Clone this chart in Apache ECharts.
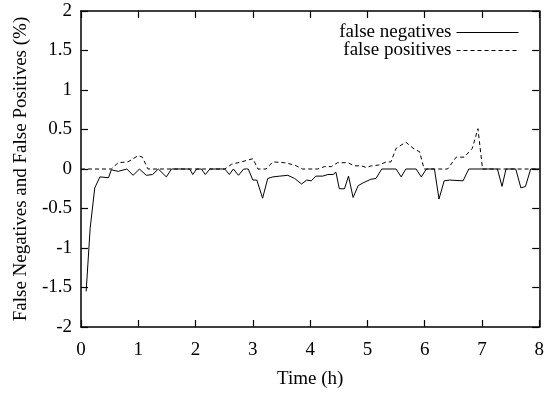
<!DOCTYPE html>
<html>
<head>
<meta charset="utf-8">
<script src="https://cdn.jsdelivr.net/npm/echarts@6/dist/echarts.min.js"></script>
<style>html,body{margin:0;padding:0;background:#fff;}#c{width:547px;height:394px;}</style>
</head>
<body>
<div id="c"></div>
<script>
var seriesNames = ['false negatives', 'false positives'];
var xTicks = [0, 1, 2, 3, 4, 5, 6, 7, 8];
var yTicks = [-2, -1.5, -1, -0.5, 0, 0.5, 1, 1.5, 2];

var fnTime = [0.09,0.16,0.24,0.33,0.48,0.53,0.65,0.80,0.91,1.02,1.14,1.25,1.35,1.49,1.58,1.90,1.95,2.02,2.10,2.17,2.25,2.51,2.59,2.66,2.75,2.84,2.92,3.00,3.07,3.17,3.26,3.35,3.47,3.61,3.73,3.85,3.94,4.02,4.10,4.22,4.31,4.40,4.45,4.51,4.60,4.67,4.75,4.84,4.94,5.06,5.15,5.25,5.50,5.59,5.67,5.85,5.94,6.03,6.17,6.25,6.34,6.43,6.67,6.77,7.27,7.35,7.42,7.59,7.68,7.76,7.85,8.00];
var fnValue = [-1.55,-0.75,-0.24,-0.10,-0.11,-0.01,-0.03,0,-0.08,0,-0.08,-0.07,0,-0.10,0,0,-0.07,0,0,-0.07,0,0,-0.07,0,-0.08,0,0,-0.14,-0.14,-0.37,-0.12,-0.10,-0.09,-0.08,-0.12,-0.19,-0.14,-0.15,-0.09,-0.09,-0.07,-0.07,-0.04,-0.25,-0.25,-0.09,-0.36,-0.21,-0.17,-0.13,-0.12,0,0,-0.10,0,0,-0.10,0,0,-0.38,-0.15,-0.14,-0.15,0,0,-0.22,0,0,-0.24,-0.22,0,0];

var fpTime = [0,0.53,0.65,0.82,1.00,1.07,1.17,2.51,2.63,2.80,3.00,3.09,3.23,3.35,3.55,3.73,3.87,4.13,4.25,4.37,4.48,4.66,4.77,4.89,4.98,5.07,5.20,5.33,5.41,5.50,5.67,5.82,5.91,5.99,6.40,6.55,6.69,6.83,6.93,7.01,8.00];
var fpValue = [0,0,0.08,0.09,0.17,0.15,0,0,0.06,0.09,0.13,0,0,0.09,0.08,0.05,0,0,0.03,0.03,0.08,0.08,0.04,0.04,0.02,0.04,0.05,0.09,0.09,0.26,0.34,0.25,0.22,0,0,0.15,0.15,0.26,0.51,0,0];

function pairs(t, v) { return t.map(function (x, i) { return [x, v[i]]; }); }

var font = 'Liberation Serif, Times New Roman, serif';
var fs = 19;
function axisBase(extra) {
  var a = {
    type: 'value',
    axisLine: { show: true, onZero: false, lineStyle: { color: '#000', width: 1.5 } },
    axisTick: { show: true, inside: true, length: 7, lineStyle: { color: '#000', width: 1.2 } },
    splitLine: { show: false },
    axisLabel: { color: '#000', fontFamily: font, fontSize: fs }
  };
  for (var k in extra) a[k] = extra[k];
  return a;
}
function legendFor(name, top, dashed) {
  return { data: [name], orient: 'vertical', align: 'right', right: 28, top: top,
    itemWidth: 62, itemHeight: 10, itemGap: 0, padding: 0,
    itemStyle: { opacity: 0 },
    lineStyle: { width: 1, color: '#000', type: dashed ? [4, 3] : 'solid' },
    textStyle: { color: '#000', fontFamily: font, fontSize: fs } };
}

var chart = echarts.init(document.getElementById('c'), null, { renderer: 'canvas' });
chart.setOption({
  animation: false,
  backgroundColor: '#fff',
  grid: { left: 81, right: 6, top: 11, bottom: 64, containLabel: false },
  legend: [ legendFor(seriesNames[0], 23, false), legendFor(seriesNames[1], 41, true) ],
  xAxis: [
    axisBase({ position: 'bottom', min: xTicks[0], max: xTicks[xTicks.length - 1], interval: 1,
      name: 'Time (h)', nameLocation: 'middle', nameGap: 43,
      nameTextStyle: { color: '#000', fontFamily: font, fontSize: fs },
      axisLabel: { color: '#000', fontFamily: font, fontSize: fs, margin: 14 } }),
    axisBase({ position: 'top', min: xTicks[0], max: xTicks[xTicks.length - 1], interval: 1,
      axisLabel: { show: false } })
  ],
  yAxis: [
    axisBase({ position: 'left', min: yTicks[0], max: yTicks[yTicks.length - 1], interval: 0.5,
      name: 'False Negatives and False Positives (%)', nameLocation: 'middle', nameGap: 50,
      nameTextStyle: { color: '#000', fontFamily: font, fontSize: fs },
      axisLabel: { color: '#000', fontFamily: font, fontSize: fs, margin: 9 } }),
    axisBase({ position: 'right', min: yTicks[0], max: yTicks[yTicks.length - 1], interval: 0.5,
      axisLabel: { show: false } })
  ],
  series: [
    { name: seriesNames[0], type: 'line', data: pairs(fnTime, fnValue), symbol: 'none',
      lineStyle: { color: '#000', width: 1 }, itemStyle: { color: '#000' } },
    { name: seriesNames[1], type: 'line', data: pairs(fpTime, fpValue), symbol: 'none',
      lineStyle: { color: '#000', width: 1, type: [4, 3] }, itemStyle: { color: '#000' } }
  ]
});
</script>
</body>
</html>
